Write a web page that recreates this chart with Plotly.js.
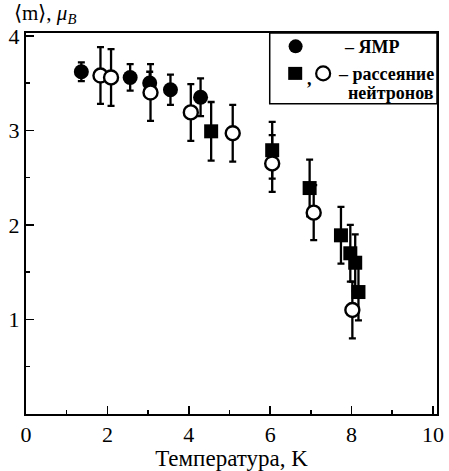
<!DOCTYPE html>
<html>
<head>
<meta charset="utf-8">
<script src="https://cdn.plot.ly/plotly-3.0.1.min.js"></script>
<style>html,body{margin:0;padding:0;background:#fff;}#chart{width:449px;height:471px;}</style>
</head>
<body>
<div id="chart"></div>
<script>
// ЯМР (filled circles)
var nmrT = [1.36, 2.56, 3.04, 3.55, 4.29];
var nmrM = [3.62, 3.56, 3.50, 3.43, 3.35];
var nmrErr = [0.10, 0.14, 0.12, 0.16, 0.20];
// neutron scattering (filled squares)
var sqT = [4.55, 6.05, 6.97, 7.74, 7.97, 8.09, 8.17];
var sqM = [2.99, 2.79, 2.39, 1.89, 1.70, 1.60, 1.29];
var sqErr = [0.31, 0.30, 0.30, 0.30, 0.30, 0.30, 0.30];
// neutron scattering (open circles)
var ocT = [1.83, 2.09, 3.06, 4.05, 5.08, 6.05, 7.07, 8.02];
var ocM = [3.58, 3.56, 3.40, 3.19, 2.97, 2.65, 2.13, 1.10];
var ocErr = [0.30, 0.30, 0.30, 0.30, 0.30, 0.30, 0.29, 0.30];

var xTickVals = [0, 2, 4, 6, 8, 10];
var xTickText = ['0', '2', '4', '6', '8', '10'];
var yTickVals = [1, 2, 3, 4];
var yTickText = ['1', '2', '3', '4'];

var serif = 'Liberation Serif';
function eb(arr) {
  return {type: 'data', array: arr, visible: true, color: '#000', thickness: 2.3, width: 3.5};
}
var traces = [
  {x: nmrT, y: nmrM, type: 'scatter', mode: 'markers', error_y: eb(nmrErr),
   marker: {symbol: 'circle', size: 15, color: '#000', line: {width: 0}}},
  {x: sqT, y: sqM, type: 'scatter', mode: 'markers', error_y: eb(sqErr),
   marker: {symbol: 'square', size: 14, color: '#000', line: {width: 0}}},
  {x: ocT, y: ocM, type: 'scatter', mode: 'markers', error_y: eb(ocErr),
   marker: {symbol: 'circle', size: 14, color: '#fff', line: {width: 2.4, color: '#000'}}}
];

var layout = {
  width: 449, height: 471,
  margin: {l: 26, r: 12, t: 33, b: 57},
  paper_bgcolor: '#fff', plot_bgcolor: '#fff',
  showlegend: false,
  font: {family: serif, color: '#000', size: 21},
  xaxis: {
    range: [0, 10.1], tickvals: xTickVals, ticktext: xTickText,
    ticks: 'inside', ticklen: 8, tickwidth: 1.5, tickcolor: '#000',
    minor: {dtick: 1, ticks: 'inside', ticklen: 4, tickwidth: 1.5, tickcolor: '#000', showgrid: false},
    showline: true, linewidth: 2, linecolor: '#000', mirror: true,
    showgrid: false, zeroline: false,
    tickfont: {family: serif, size: 22, color: '#000'},
    title: {text: 'Температура, K', font: {family: serif, size: 23, color: '#000'}, standoff: 0}
  },
  yaxis: {
    range: [0, 4.03], tickvals: yTickVals, ticktext: yTickText,
    ticks: 'inside', ticklen: 8, tickwidth: 1.5, tickcolor: '#000',
    minor: {dtick: 0.5, ticks: 'inside', ticklen: 4, tickwidth: 1.5, tickcolor: '#000', showgrid: false},
    showline: true, linewidth: 2, linecolor: '#000', mirror: true,
    showgrid: false, zeroline: false,
    tickfont: {family: serif, size: 22, color: '#000'}
  },
  shapes: [
    {type: 'rect', xref: 'paper', yref: 'paper', x0: 0.593, x1: 1, y0: 0.814, y1: 1,
     line: {color: '#000', width: 1.5}, fillcolor: '#fff', layer: 'above'},
    {type: 'circle', xref: 'paper', yref: 'paper', xsizemode: 'pixel', ysizemode: 'pixel',
     xanchor: 0.656, yanchor: 0.965, x0: -7, x1: 7, y0: -7, y1: 7,
     fillcolor: '#000', line: {width: 0}, layer: 'above'},
    {type: 'rect', xref: 'paper', yref: 'paper', xsizemode: 'pixel', ysizemode: 'pixel',
     xanchor: 0.655, yanchor: 0.894, x0: -7, x1: 7, y0: -6.5, y1: 6.5,
     fillcolor: '#000', line: {width: 0}, layer: 'above'},
    {type: 'circle', xref: 'paper', yref: 'paper', xsizemode: 'pixel', ysizemode: 'pixel',
     xanchor: 0.723, yanchor: 0.894, x0: -7, x1: 7, y0: -7, y1: 7,
     fillcolor: '#fff', line: {width: 2.2, color: '#000'}, layer: 'above'}
  ],
  annotations: [
    {xref: 'paper', yref: 'paper', x: 0.768, y: 0.962, xanchor: 'left', yanchor: 'middle',
     text: '<b>– ЯМР</b>', showarrow: false, font: {family: serif, size: 18, color: '#000'}},
    {xref: 'paper', yref: 'paper', x: 0.68, y: 0.88, xanchor: 'left', yanchor: 'middle',
     text: '<b>,</b>', showarrow: false, font: {family: serif, size: 18, color: '#000'}},
    {xref: 'paper', yref: 'paper', x: 0.998, y: 0.892, xanchor: 'right', yanchor: 'middle',
     text: '<b>– рассеяние</b>', showarrow: false, font: {family: serif, size: 18, color: '#000'}},
    {xref: 'paper', yref: 'paper', x: 0.998, y: 0.842, xanchor: 'right', yanchor: 'middle',
     text: '<b>нейтронов</b>', showarrow: false, font: {family: serif, size: 18, color: '#000'}},
    {xref: 'paper', yref: 'paper', x: -0.035, y: 1.05, xanchor: 'left', yanchor: 'middle',
     text: '⟨m⟩, <i>μ</i><sub><i>B</i></sub>', showarrow: false,
     font: {family: serif, size: 21, color: '#000'}}
  ]
};
Plotly.newPlot('chart', traces, layout, {displayModeBar: false, staticPlot: true});
</script>
</body>
</html>
